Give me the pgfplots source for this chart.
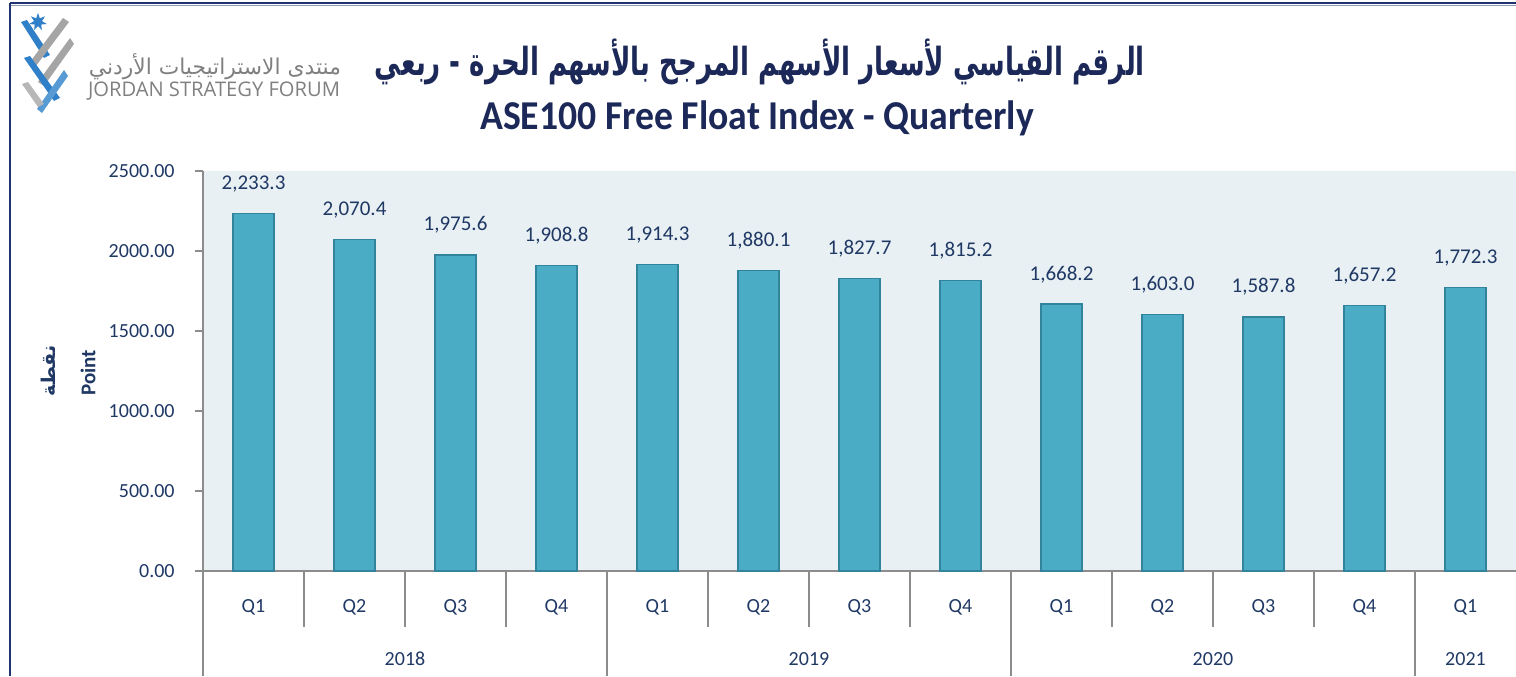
\documentclass[border=0pt]{standalone}
\usepackage{pgfplots}
\pgfplotsset{compat=1.18}
\usepackage{pgfplotstable}
\usetikzlibrary{shapes.geometric}
\usepackage{fontspec}
\setmainfont{Carlito}
\newfontfamily\arabicfont[Script=Arabic]{DejaVu Sans}
\newfontfamily\titlefont[FakeStretch=0.92]{Carlito}
\newfontfamily\logofont{Open Sans}
\TeXXeTstate=1
\definecolor{navy}{HTML}{1F3864}
\definecolor{titlenavy}{HTML}{1B2858}
\definecolor{barfill}{HTML}{4BACC6}
\definecolor{barline}{HTML}{31849B}
\definecolor{plotbg}{HTML}{E8F0F3}
\definecolor{axgray}{HTML}{8C8C8C}
\definecolor{logoblue}{HTML}{2F80C8}
\definecolor{logogray}{HTML}{A5A5A5}
\definecolor{logotext}{HTML}{808080}
\definecolor{framecol}{HTML}{1F3470}

\pgfplotstableread{
x y
0 2233.3
1 2070.4
2 1975.6
3 1908.8
4 1914.3
5 1880.1
6 1827.7
7 1815.2
8 1668.2
9 1603.0
10 1587.8
11 1657.2
12 1772.3
}\datatable

\begin{document}
\begin{tikzpicture}
\path[use as bounding box] (0,0) rectangle (758pt,338pt);

\begin{axis}[
  at={(101.5pt,52.5pt)}, anchor=south west,
  scale only axis, width=656.5pt, height=200pt,
  xmin=-0.5, xmax=12.5, ymin=0, ymax=2500,
  axis lines*=left,
  axis line style={draw=axgray, line width=0.8pt, -},
  axis background/.style={fill=plotbg},
  clip=false,
  xtick={0,...,12},
  xticklabels={Q1,Q2,Q3,Q4,Q1,Q2,Q3,Q4,Q1,Q2,Q3,Q4,Q1},
  x tick style={draw=none},
  xticklabel style={anchor=center, yshift=-14pt, font=\fontsize{10}{12}\selectfont, text=navy},
  ytick={0,500,1000,1500,2000,2500},
  y tick style={draw=axgray, line width=0.8pt},
  tick align=outside, major tick length=4pt,
  yticklabel style={font=\fontsize{10}{12}\selectfont, text=navy, anchor=east, xshift=-10pt, inner sep=0pt,
    /pgf/number format/.cd, fixed, fixed zerofill, precision=2, 1000 sep={}, assume math mode=true},
  /pgf/number format/assume math mode=true,
]
\addplot[ybar, bar width=20.5pt, fill=barfill, draw=barline, line width=0.6pt,
  nodes near coords={\pgfmathprintnumber[fixed,fixed zerofill,precision=1,1000 sep={,},assume math mode=true]{\pgfplotspointmeta}},
  every node near coord/.append style={anchor=base, yshift=12pt, font=\fontsize{10.5}{12}\selectfont, text=navy},
] table[x=x,y=y] {\datatable};

% category separators
\draw[axgray, line width=0.8pt] (axis cs:0.5,0) -- ++(0pt,-28pt);
\draw[axgray, line width=0.8pt] (axis cs:1.5,0) -- ++(0pt,-28pt);
\draw[axgray, line width=0.8pt] (axis cs:2.5,0) -- ++(0pt,-28pt);
\draw[axgray, line width=0.8pt] (axis cs:4.5,0) -- ++(0pt,-28pt);
\draw[axgray, line width=0.8pt] (axis cs:5.5,0) -- ++(0pt,-28pt);
\draw[axgray, line width=0.8pt] (axis cs:6.5,0) -- ++(0pt,-28pt);
\draw[axgray, line width=0.8pt] (axis cs:8.5,0) -- ++(0pt,-28pt);
\draw[axgray, line width=0.8pt] (axis cs:9.5,0) -- ++(0pt,-28pt);
\draw[axgray, line width=0.8pt] (axis cs:10.5,0) -- ++(0pt,-28pt);
\draw[axgray, line width=0.8pt] (axis cs:-0.5,0) -- ++(0pt,-52.5pt);
\draw[axgray, line width=0.8pt] (axis cs:3.5,0) -- ++(0pt,-52.5pt);
\draw[axgray, line width=0.8pt] (axis cs:7.5,0) -- ++(0pt,-52.5pt);
\draw[axgray, line width=0.8pt] (axis cs:11.5,0) -- ++(0pt,-52.5pt);
% year labels
\node[text=navy, font=\fontsize{10}{12}\selectfont] at ([yshift=-44pt]axis cs:1.5,0) {2018};
\node[text=navy, font=\fontsize{10}{12}\selectfont] at ([yshift=-44pt]axis cs:5.5,0) {2019};
\node[text=navy, font=\fontsize{10}{12}\selectfont] at ([yshift=-44pt]axis cs:9.5,0) {2020};
\node[text=navy, font=\fontsize{10}{12}\selectfont] at ([yshift=-44pt]axis cs:12,0) {2021};
\end{axis}

\begin{scope}[x=0.5pt, y=-0.5pt, shift={(0pt,338pt)}]
  % frame
  \draw[framecol, line width=1.2pt] (10,3) -- (1516,3);
  \draw[framecol!50, line width=0.5pt] (10,5.5) -- (1516,5.5);
  \draw[framecol, line width=1pt] (10,3) -- (10,676);
  % logo graphic
  \fill[logoblue] (21,22) -- (27,20) -- (50,55) -- (44,58) -- cycle;
  \fill[logogray] (63,18) -- (69,22) -- (36,66) -- (30,62) -- cycle;
  \fill[logogray] (70,38) -- (74,44) -- (44,86) -- (38,82) -- cycle;
  \fill[logoblue] (24,58) -- (30,56) -- (60,98) -- (54,101) -- cycle;
  \fill[logoblue!80] (64,70) -- (68,76) -- (42,113) -- (37,109) -- cycle;
  \fill[logogray!80] (22,84) -- (28,82) -- (44,104) -- (38,107) -- cycle;
  \node[star, star points=7, star point ratio=2.2, fill=logoblue, inner sep=0pt, minimum size=9pt] at (38,22) {};
  % logo texts
  \node[text=logotext] at (215,67) {\resizebox{126pt}{!}{\arabicfont\beginR منتدى الاستراتيجيات الأردني\endR}};
  \node[text=logotext] at (214,91) {\resizebox{126pt}{!}{\logofont JORDAN STRATEGY FORUM}};
  % titles
  \node[text=titlenavy, inner sep=0pt] at (760,62) {\resizebox*{385pt}{23pt}{\arabicfont\bfseries\beginR الرقم القياسي لأسعار الأسهم المرجح بالأسهم الحرة - ربعي\endR}};
  \node[text=titlenavy, anchor=base] at (757,130) {\titlefont\bfseries\fontsize{20.5}{24}\selectfont ASE100 Free Float Index - Quarterly};
  % y labels
  \node[text=navy, rotate=90, font=\bfseries\fontsize{10.5}{12}\selectfont] at (88,373) {Point};
  \node[text=navy, rotate=90] at (48,371) {\arabicfont\bfseries\fontsize{9.5}{12}\selectfont\beginR نقطة\endR};
\end{scope}
\end{tikzpicture}
\end{document}
